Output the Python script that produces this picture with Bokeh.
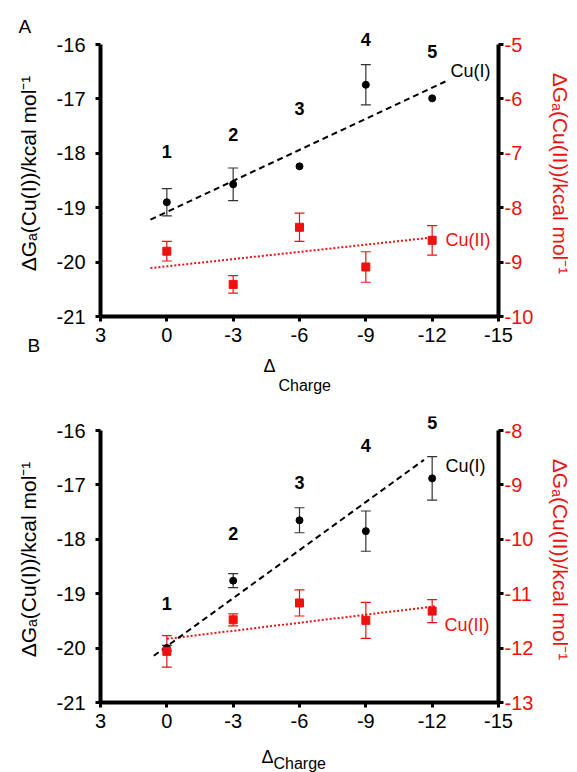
from math import pi
from bokeh.plotting import figure
from bokeh.models import (Range1d, LinearAxis, FixedTicker, Label, Whisker,
                          TeeHead, ColumnDataSource, Title)
from bokeh.layouts import column
from bokeh.embed import file_html
from bokeh.resources import INLINE

# ---------------- data ----------------
charge = [0, -3, -6, -9, -12]
compound_ids = ["1", "2", "3", "4", "5"]
x_ticks = [3, 0, -3, -6, -9, -12, -15]

# Panel A
a_cu1 = [-18.90, -18.57, -18.24, -16.74, -16.99]
a_cu1_err = [0.25, 0.30, 0.0, 0.37, 0.0]
a_cu2 = [-8.80, -9.41, -8.36, -9.09, -8.60]
a_cu2_err = [0.18, 0.16, 0.26, 0.28, 0.27]
a_cu1_fit_x = [0.74, -12.6]
a_cu1_fit_y = [-19.22, -16.68]
a_cu2_fit_x = [0.74, -12.16]
a_cu2_fit_y = [-9.11, -8.54]
a_id_y = [-17.97, -17.66, -17.17, -15.90, -16.13]
a_left_ticks = [-21, -20, -19, -18, -17, -16]
a_right_ticks = [-10, -9, -8, -7, -6, -5]

# Panel B
b_cu1 = [-20.00, -18.76, -17.65, -17.85, -16.88]
b_cu1_err = [0.05, 0.13, 0.23, 0.37, 0.40]
b_cu2 = [-12.06, -11.48, -11.17, -11.49, -11.32]
b_cu2_err = [0.29, 0.11, 0.24, 0.33, 0.21]
b_cu1_fit_x = [0.59, -11.63]
b_cu1_fit_y = [-20.14, -16.54]
b_cu2_fit_x = [0.0, -12.16]
b_cu2_fit_y = [-11.83, -11.23]
b_id_y = [-19.18, -17.90, -16.96, -16.28, -15.85]
b_left_ticks = [-21, -20, -19, -18, -17, -16]
b_right_ticks = [-13, -12, -11, -10, -9, -8]

RED = "#f01010"
BLACK = "#000000"
FONT = "Liberation Sans"

FRAME_LEFT = 100
FRAME_H = 286            # frame height in px (5 units + headroom)
HEADROOM_PX = 14         # frame space above the top tick
PX_PER_UNIT = (FRAME_H - HEADROOM_PX) / 5.0
EXTRA = HEADROOM_PX / PX_PER_UNIT


def style_axis(ax, ticks, color, standoff):
    ax.ticker = FixedTicker(ticks=ticks)
    ax.bounds = (min(ticks), max(ticks))
    ax.major_label_overrides = {t: str(t) for t in ticks}
    ax.axis_line_width = 4
    ax.axis_line_color = BLACK
    ax.major_tick_line_width = 3
    ax.major_tick_line_color = BLACK
    ax.major_tick_out = 5
    ax.major_tick_in = 0
    ax.minor_tick_line_color = None
    ax.major_label_text_font = FONT
    ax.major_label_text_font_size = "20px"
    ax.major_label_text_color = color
    ax.major_label_standoff = standoff
    ax.axis_label_text_font = FONT
    ax.axis_label_text_font_size = "21px"
    ax.axis_label_text_font_style = "normal"
    ax.axis_label_text_color = color


def lab(p, x, y, text, size, color=BLACK, bold=False, align="center",
        rng="default"):
    p.add_layout(Label(x=x, y=y, text=text, text_font=FONT,
                       text_font_size=size, text_color=color,
                       text_font_style="bold" if bold else "normal",
                       text_align=align, text_baseline="middle",
                       y_range_name=rng))


def title(p, text, size, offset, standoff, side="below", valign="middle"):
    p.add_layout(Title(text=text, align="left", offset=offset,
                       standoff=standoff, vertical_align=valign,
                       text_font=FONT, text_font_size=size,
                       text_font_style="normal", text_color=BLACK), side)


def panel(height, top, bottom, cu1, cu1_err, cu2, cu2_err, f1x, f1y, f2x,
          f2y, id_y, left_ticks, right_ticks, cu1_lab, cu2_lab,
          left_title, right_title):
    p = figure(width=577, height=height, x_range=Range1d(3, -15),
               y_range=Range1d(left_ticks[0], left_ticks[-1] + EXTRA),
               output_backend="svg", toolbar_location=None,
               min_border_left=FRAME_LEFT, min_border_right=79,
               min_border_top=top, min_border_bottom=bottom)
    p.extra_y_ranges = {"r": Range1d(right_ticks[0], right_ticks[-1] + EXTRA)}
    p.xgrid.visible = False
    p.ygrid.visible = False
    p.outline_line_color = None
    p.background_fill_color = "white"
    p.border_fill_color = "white"

    raxis = LinearAxis(y_range_name="r")
    p.add_layout(raxis, "right")
    style_axis(p.xaxis[0], x_ticks, BLACK, 6)
    style_axis(p.left[0], left_ticks, BLACK, 10)
    style_axis(raxis, right_ticks, RED, 1)
    p.left[0].axis_label = left_title
    p.left[0].axis_label_standoff = 14
    raxis.axis_label = right_title
    raxis.axis_label_standoff = 13

    # fit lines
    p.line(f2x, f2y, y_range_name="r", line_color=RED, line_width=2,
           line_dash="2 2")
    p.line(f1x, f1y, line_color=BLACK, line_width=2, line_dash="6 4")

    # black series
    e1 = [(x, y, e) for x, y, e in zip(charge, cu1, cu1_err) if e > 0]
    s1 = ColumnDataSource(dict(x=[t[0] for t in e1],
                               upper=[t[1] + t[2] for t in e1],
                               lower=[t[1] - t[2] for t in e1]))
    p.add_layout(Whisker(source=s1, base="x", upper="upper", lower="lower",
                         line_color="#333333", line_width=1.2,
                         upper_head=TeeHead(size=10, line_color="#333333", line_width=1.2),
                         lower_head=TeeHead(size=10, line_color="#333333", line_width=1.2)))
    p.scatter(charge, cu1, marker="circle", size=7, color=BLACK)

    # red series
    s2 = ColumnDataSource(dict(x=charge,
                               upper=[y + e for y, e in zip(cu2, cu2_err)],
                               lower=[y - e for y, e in zip(cu2, cu2_err)]))
    p.add_layout(Whisker(source=s2, base="x", upper="upper", lower="lower",
                         y_range_name="r", line_color=RED, line_width=1.2,
                         upper_head=TeeHead(size=10, line_color=RED, line_width=1.2),
                         lower_head=TeeHead(size=10, line_color=RED, line_width=1.2)))
    p.scatter(charge, cu2, marker="square", size=8, color=RED,
              y_range_name="r")

    for x, y, t in zip(charge, id_y, compound_ids):
        lab(p, x, y, t, "18px", bold=True)

    lab(p, cu1_lab[0], cu1_lab[1], "Cu(I)", "18px", align="left")
    lab(p, cu2_lab[0], cu2_lab[1], "Cu(II)", "18px", color=RED,
        align="left", rng="r")
    return p


pA = panel(396, 30, 80, a_cu1, a_cu1_err, a_cu2, a_cu2_err, a_cu1_fit_x,
           a_cu1_fit_y, a_cu2_fit_x, a_cu2_fit_y, a_id_y, a_left_ticks,
           a_right_ticks, (-12.83, -16.48), (-12.6, -8.6),
           "ΔGₐ(Cu(I))/kcal mol⁻¹", "ΔGₐ(Cu(II))/kcal mol⁻¹")
title(pA, "A", "19px", -82, -14, side="above")
title(pA, "B", "19px", -73, -21)
title(pA, "Δ", "18px", 163, 16)
title(pA, "Charge", "16px", 178, -17)

pB = panel(376, 20, 70, b_cu1, b_cu1_err, b_cu2, b_cu2_err, b_cu1_fit_x,
           b_cu1_fit_y, b_cu2_fit_x, b_cu2_fit_y, b_id_y, b_left_ticks,
           b_right_ticks, (-12.6, -16.66), (-12.56, -11.58),
           "ΔGₐ(Cu(I))/kcal mol⁻¹", "ΔGₐ(Cu(II))/kcal mol⁻¹")
title(pB, "Δ", "18px", 161, -72, valign="bottom")
title(pB, "Charge", "16px", 173, -82, valign="bottom")

layout = column(pA, pB, spacing=0)
open("out.html", "w").write(file_html(layout, INLINE))
